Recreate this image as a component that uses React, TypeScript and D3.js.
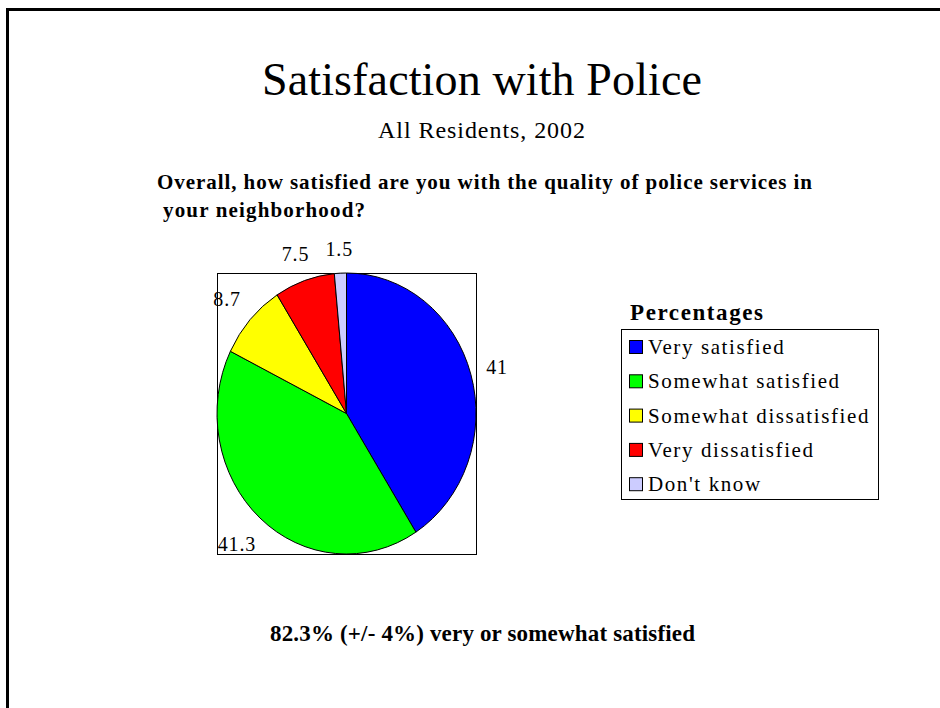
import React from "react";
import * as d3 from "d3";

const categories = ["Very satisfied", "Somewhat satisfied", "Somewhat dissatisfied", "Very dissatisfied", "Don't know"];
const values = [41, 41.3, 8.7, 7.5, 1.5];
const valueLabels = ["41", "41.3", "8.7", "7.5", "1.5"];
const colors = ["#0000FF", "#00FF00", "#FFFF00", "#FF0000", "#CCCCFF"];

const W = 940;
const H = 708;
const SERIF = "'Liberation Serif', 'Times New Roman', serif";

export default function App() {
  // plot box
  const box = { x0: 217, y0: 273, x1: 476, y1: 554 };
  const cx = (box.x0 + box.x1) / 2;
  const cy = (box.y0 + box.y1) / 2;
  const rx = (box.x1 - box.x0) / 2;
  const ry = (box.y1 - box.y0) / 2;
  const R = 100;

  const pie = d3.pie<number>().sort(null).value((d) => d);
  const arcs = pie(values);
  const arcGen = d3.arc<d3.PieArcDatum<number>>().innerRadius(0).outerRadius(R);

  const labelFont = 20;
  const labelPos = arcs.map((a, i) => {
    const mid = (a.startAngle + a.endAngle) / 2;
    const s = Math.sin(mid);
    const c = Math.cos(mid);
    const px = cx + rx * s;
    const py = cy - ry * c;
    const w = valueLabels[i].length * 11 - (valueLabels[i].includes(".") ? 5 : 0);
    const h = 20;
    const ext = Math.abs(s) * (w / 2) + Math.abs(c) * (h / 2) + 14;
    return { x: px + s * ext, y: py - c * ext };
  });

  const legendItems = categories.map((c, i) => ({ c, color: colors[i] }));
  const legend = { x: 621, y: 329, w: 257, h: 170 };
  const rowH = 34.3;

  return (
    <svg
      width={W}
      height={H}
      style={{ position: "absolute", left: 0, top: 0, background: "#fff" }}
      fontFamily={SERIF}
    >
      <rect x={0} y={0} width={W} height={H} fill="#fff" />
      <rect x={7.5} y={9.5} width={W + 20} height={H + 20} fill="none" stroke="#000" strokeWidth={3} />

      <text x={262} y={95} fontSize={46} textLength={440} lengthAdjust="spacing" fill="#000">
        Satisfaction with Police
      </text>
      <text x={378} y={138} fontSize={24} textLength={207} lengthAdjust="spacing" fill="#000">
        All Residents, 2002
      </text>
      <text x={157} y={189} fontSize={21} fontWeight="bold" textLength={655} lengthAdjust="spacing" fill="#000">
        Overall, how satisfied are you with the quality of police services in
      </text>
      <text x={163} y={217} fontSize={21} fontWeight="bold" textLength={202} lengthAdjust="spacing" fill="#000">
        your neighborhood?
      </text>

      <rect
        x={box.x0 + 0.5}
        y={box.y0 + 0.5}
        width={box.x1 - box.x0}
        height={box.y1 - box.y0}
        fill="#fff"
        stroke="#000"
        strokeWidth={1}
      />
      <g transform={`translate(${cx},${cy}) scale(${rx / R},${ry / R})`}>
        {arcs.map((a, i) => (
          <path
            key={i}
            d={arcGen(a) || ""}
            fill={colors[i]}
            stroke="#000"
            strokeWidth={1}
            vectorEffect="non-scaling-stroke"
          />
        ))}
      </g>
      {labelPos.map((p, i) => (
        <text
          key={i}
          x={p.x}
          y={p.y}
          textAnchor="middle"
          dominantBaseline="central"
          fontSize={labelFont}
          letterSpacing={0.8}
          fill="#000"
        >
          {valueLabels[i]}
        </text>
      ))}

      <text x={630} y={320} fontSize={23} fontWeight="bold" textLength={133} lengthAdjust="spacing" fill="#000">
        Percentages
      </text>
      <rect
        x={legend.x + 0.5}
        y={legend.y + 0.5}
        width={legend.w}
        height={legend.h}
        fill="#fff"
        stroke="#000"
        strokeWidth={1}
      />
      {legendItems.map((it, i) => {
        const yc = legend.y + 18 + i * rowH;
        return (
          <g key={i}>
            <rect x={629.5} y={yc - 6.5} width={13} height={13} fill={it.color} stroke="#000" strokeWidth={1} />
            <text x={648} y={yc} dominantBaseline="central" fontSize={21} letterSpacing={1.6} fill="#000">
              {it.c}
            </text>
          </g>
        );
      })}

      <text x={270} y={641} fontSize={23} fontWeight="bold" textLength={425} lengthAdjust="spacing" fill="#000">
        82.3% (+/- 4%) very or somewhat satisfied
      </text>
    </svg>
  );
}
